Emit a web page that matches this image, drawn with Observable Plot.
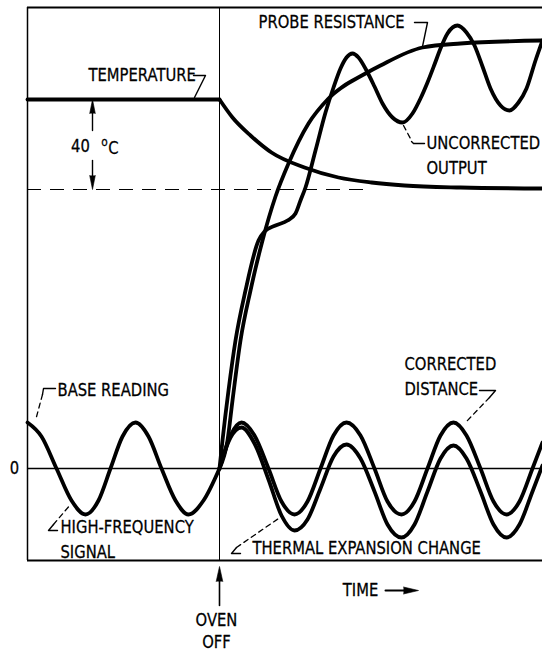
<!DOCTYPE html>
<html>
<head>
<meta charset="utf-8">
<script src="https://cdn.jsdelivr.net/npm/d3@7"></script>
<script src="https://cdn.jsdelivr.net/npm/@observablehq/plot@0.6"></script>
<style>
  html, body { margin: 0; padding: 0; background: #fff; }
  #chart svg { display: block; }
</style>
</head>
<body>
<div id="chart"></div>
<script>
// ---------- data (time units, signal units) ----------
// temperature: flat until oven off, then decays 40 °C
const tempFlatT = [0, 192];
const tempFlatV = [369, 369];
const tempDecayT = [192, 205, 223, 244, 277, 311, 344, 377, 433, 515];
const tempDecayV = [369, 351, 333, 316, 301, 291, 286, 283, 281, 280];
const tempFinalV = 279;          // dashed reference level (40 °C below)

// high-frequency signal before oven off (base reading)
const signalT = [0, 14, 29, 44, 58, 71, 83, 95, 108, 121, 134, 148, 161, 176, 192];
const signalV = [46, 32, 0, -32, -46, -32, 0, 32, 46, 32, 0, -32, -46, -32, 0];

// after oven off
const afterT = [192, 203, 214, 227, 241, 254, 267, 280, 293, 306, 319, 333, 347, 360, 374, 387, 400, 413, 426, 439, 453, 466, 479, 492, 505, 515];
const correctedV = [0, 33, 46, 33, 0, -33, -46, -33, 0, 33, 46, 33, 0, -33, -46, -33, 0, 33, 46, 33, 0, -33, -46, -33, 0, 26];
const thermalV = [0, 31, 41, 25, -11, -47, -62, -51, -20, 12, 24, 10, -23, -56, -69, -56, -23, 10, 23, 10, -23, -56, -69, -56, -23, 3];

const probeT = [192, 200, 205, 213, 223, 235, 248, 261, 281, 301, 338, 353, 395, 433, 515];
const probeV = [0, 28, 68, 128, 178, 228, 272, 305, 345, 370, 395, 403, 421, 425, 428];

const uncorrT = [192, 195, 201, 208, 218, 231, 237, 248, 260, 268, 273, 278, 288, 298, 306, 313, 319, 325, 331, 339, 347, 355, 365, 375, 385, 393, 400, 407, 413, 420, 430, 439, 447, 455, 463, 473, 482, 491, 499, 508, 515];
const uncorrV = [0, 28, 78, 128, 178, 228, 237, 243, 248, 255, 268, 281, 318, 356, 381, 400, 411, 415, 411, 398, 382, 365, 351, 346, 355, 370, 386, 404, 420, 435, 443, 436, 423, 402, 380, 363, 358, 366, 380, 408, 428];

const ovenOffT = 192;

// labels
const labelText = ["PROBE RESISTANCE", "TEMPERATURE", "UNCORRECTED", "OUTPUT", "CORRECTED", "DISTANCE",
  "BASE READING", "HIGH-FREQUENCY", "SIGNAL", "THERMAL EXPANSION CHANGE"];
const labelT = [231, 61, 399, 399, 377, 377, 30, 33, 33, 225];
const labelV = [446, 393, 325, 300, 104, 79, 78, -59, -84, -80];

// ---------- build tables ----------
const toRows = (T, V) => T.map((t, i) => ({t, v: V[i]}));
const tempFlat = toRows(tempFlatT, tempFlatV);
const tempDecay = toRows(tempDecayT, tempDecayV);
const signal = toRows(signalT, signalV);
const corrected = toRows(afterT, correctedV);
const thermal = toRows(afterT, thermalV);
const probe = toRows(probeT, probeV);
const uncorr = toRows(uncorrT, uncorrV);
const labels = labelText.map((text, i) => ({text, t: labelT[i], v: labelV[i]}));

// leader lines (annotation anchors, data units)
const leaders = [
  {id: "probe", dash: false, pts: [[387, 446], [400, 446], [395, 422]]},
  {id: "temp", dash: false, pts: [[166, 393], [178, 393], [167, 371]]},
  {id: "unc1", dash: true, pts: [[376, 343], [384, 328]]},
  {id: "unc2", dash: false, pts: [[384, 327], [386, 325], [397, 325]]},
  {id: "cor1", dash: false, pts: [[452, 78], [468, 78], [462, 71]]},
  {id: "cor2", dash: true, pts: [[462, 71], [438, 46]]},
  {id: "base1", dash: false, pts: [[28, 80], [16, 80], [15, 74]]},
  {id: "base2", dash: true, pts: [[15, 74], [8, 48]]},
  {id: "hf1", dash: false, pts: [[30, -62], [21, -62], [26, -56]]},
  {id: "hf2", dash: true, pts: [[26, -56], [43, -36]]},
  {id: "th1", dash: false, pts: [[213, -85], [204, -85], [209, -79]]},
  {id: "th2", dash: true, pts: [[209, -79], [251, -50]]}
];
const leaderRows = leaders.flatMap(d => d.pts.map(([t, v]) => ({id: d.id, dash: d.dash, t, v})));

const FONT = "'DejaVu Sans', sans-serif";
const CW = 3.8; // curve width
const txt = {fontSize: 18, fill: "#000", stroke: "#000", strokeWidth: 0.3};

const chart = Plot.plot({
  width: 542,
  height: 654,
  marginLeft: 27,
  marginRight: 0,
  marginTop: 7,
  marginBottom: 94,
  x: {domain: [0, 515], axis: null},
  y: {domain: [-92, 461], axis: null},
  style: {fontFamily: FONT, background: "#fff", color: "#000"},
  marks: [
    // frame
    Plot.ruleY([461], {stroke: "#000", strokeWidth: 2}),
    Plot.ruleY([-92], {stroke: "#000", strokeWidth: 2}),
    Plot.ruleX([0], {y1: -92, y2: 461, stroke: "#000", strokeWidth: 1.5}),
    // zero line and oven-off line
    Plot.ruleY([0], {stroke: "#000", strokeWidth: 1.6}),
    Plot.ruleX([ovenOffT], {y1: -92, y2: 461, stroke: "#000", strokeWidth: 1}),
    // dashed final temperature
    Plot.ruleY([tempFinalV], {x1: 0, x2: 341, stroke: "#000", strokeWidth: 1.2, strokeDasharray: "14,9"}),
    // curves
    Plot.line(tempFlat, {x: "t", y: "v", stroke: "#000", strokeWidth: CW}),
    Plot.line(tempDecay, {x: "t", y: "v", stroke: "#000", strokeWidth: CW, curve: "monotone-x"}),
    Plot.line(signal, {x: "t", y: "v", stroke: "#000", strokeWidth: CW, curve: "monotone-x"}),
    Plot.line(corrected, {x: "t", y: "v", stroke: "#000", strokeWidth: CW, curve: "monotone-x"}),
    Plot.line(thermal, {x: "t", y: "v", stroke: "#000", strokeWidth: CW, curve: "monotone-x"}),
    Plot.line(probe, {x: "t", y: "v", stroke: "#000", strokeWidth: CW, curve: "monotone-x"}),
    Plot.line(uncorr, {x: "t", y: "v", stroke: "#000", strokeWidth: CW, curve: "monotone-x"}),
    // leaders
    Plot.line(leaderRows.filter(d => !d.dash), {x: "t", y: "v", z: "id", stroke: "#000", strokeWidth: 1.4}),
    Plot.line(leaderRows.filter(d => d.dash), {x: "t", y: "v", z: "id", stroke: "#000", strokeWidth: 1.3, strokeDasharray: "5,4"}),
    // 40 °C double arrow
    Plot.line([{t: 65, v: 355}, {t: 65, v: 338}], {x: "t", y: "v", stroke: "#000", strokeWidth: 1.4}),
    Plot.line([{t: 65, v: 308}, {t: 65, v: 292}], {x: "t", y: "v", stroke: "#000", strokeWidth: 1.4}),
    Plot.vector([{t: 65, v: 369}], {x: "t", y: "v", length: 14, r: 2.8, rotate: 0, anchor: "end", shape: "spike", fill: "#000", stroke: "#000", strokeWidth: 0.6}),
    Plot.vector([{t: 65, v: 279}], {x: "t", y: "v", length: 14, r: 2.8, rotate: 180, anchor: "end", shape: "spike", fill: "#000", stroke: "#000", strokeWidth: 0.6}),
    Plot.text([{t: 53, v: 322}], {x: "t", y: "v", text: () => "40", ...txt, textAnchor: "middle"}),
    Plot.text([{t: 77, v: 327}], {x: "t", y: "v", text: () => "o", ...txt, fontSize: 13, textAnchor: "middle"}),
    Plot.text([{t: 86, v: 320}], {x: "t", y: "v", text: () => "C", ...txt, textAnchor: "middle"}),
    // zero label
    Plot.text([{t: -13, v: 0}], {x: "t", y: "v", text: () => "0", ...txt, textAnchor: "middle"}),
    // labels
    Plot.text(labels, {x: "t", y: "v", text: "text", ...txt, textAnchor: "start"}),
    // oven off arrow
    Plot.line([{t: ovenOffT, v: -110}, {t: ovenOffT, v: -137}], {x: "t", y: "v", stroke: "#000", strokeWidth: 1.6}),
    Plot.vector([{t: ovenOffT, v: -98}], {x: "t", y: "v", length: 15, r: 3.3, rotate: 0, anchor: "end", shape: "spike", fill: "#000", stroke: "#000", strokeWidth: 0.6}),
    Plot.text([{t: 189, v: -152}, {t: 189, v: -174}], {x: "t", y: "v", text: (d, i) => ["OVEN", "OFF"][i], ...txt, textAnchor: "middle"}),
    // time arrow
    Plot.text([{t: 333, v: -122}], {x: "t", y: "v", text: () => "TIME", ...txt, textAnchor: "middle"}),
    Plot.line([{t: 358, v: -122}, {t: 380, v: -122}], {x: "t", y: "v", stroke: "#000", strokeWidth: 2}),
    Plot.vector([{t: 391, v: -122}], {x: "t", y: "v", length: 15, r: 3.5, rotate: 90, anchor: "end", shape: "spike", fill: "#000", stroke: "#000", strokeWidth: 0.6})
  ]
});
document.getElementById("chart").appendChild(chart);
// condense lettering horizontally (like the stencil lettering of the original)
chart.querySelectorAll("text").forEach(el => {
  const w = el.getComputedTextLength();
  if (w > 0) {
    el.setAttribute("textLength", (w * 0.82).toFixed(1));
    el.setAttribute("lengthAdjust", "spacingAndGlyphs");
  }
});
</script>
</body>
</html>
